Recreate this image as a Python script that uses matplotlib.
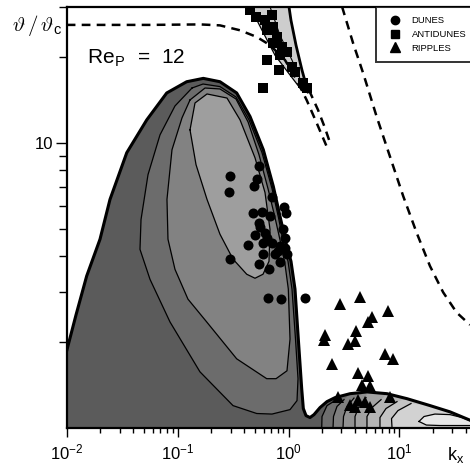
import math
import matplotlib
matplotlib.use("Agg")
import matplotlib.pyplot as plt
from matplotlib.lines import Line2D
from matplotlib.ticker import LogLocator, FixedLocator, FuncFormatter, NullFormatter

plt.rcParams['font.family'] = ['Liberation Sans', 'DejaVu Sans']
plt.rcParams['mathtext.fontset'] = 'cm'

# ---------------- data (k_x, theta/theta_c) ----------------
# outer neutral curve (growth rate = 0)
hill_k = [0.01, 0.01213, 0.01514, 0.01997, 0.02457, 0.0348, 0.0527, 0.0798, 0.1208, 0.1705,
          0.241, 0.341, 0.450, 0.593, 0.729, 0.838, 0.963, 1.053, 1.144, 1.226, 1.315, 1.36,
          1.438, 1.563, 1.698, 1.923, 2.22, 2.63, 3.59, 5.1, 7.73, 11.7, 18.9, 28.6, 43.3]
hill_t = [1.865, 2.49, 3.41, 4.59, 6.33, 9.23, 12.03, 14.95, 16.37, 16.82,
          16.37, 14.95, 12.36, 9.45, 7.04, 5.53, 4.35, 3.84, 3.07, 2.05, 1.374, 1.17,
          1.105, 1.088, 1.114, 1.179, 1.237, 1.278, 1.319, 1.338, 1.319, 1.267, 1.198, 1.139, 1.065]

# contour A (dunes)
a_k = [0.1349, 0.1695, 0.241, 0.336, 0.4404, 0.577, 0.71, 0.812, 0.911, 0.99, 1.075, 1.156, 1.218,
       1.193, 1.032, 0.71, 0.517, 0.316, 0.159, 0.0854, 0.0564, 0.0458, 0.0468, 0.0541, 0.0694, 0.0947]
a_t = [15.56, 16.07, 15.74, 14.47, 12.03, 9.23, 6.91, 5.47, 4.34, 3.84, 3.07, 2.05, 1.489,
       1.247, 1.16, 1.119, 1.124, 1.198, 1.574, 2.354, 3.32, 4.23, 5.38, 7.73, 10.66, 13.46]
# contour B
b_k = [0.1294, 0.1767, 0.241, 0.336, 0.4315, 0.542, 0.653, 0.7554, 0.856, 0.93, 0.996, 1.032, 0.969,
       0.772, 0.636, 0.341, 0.183, 0.124, 0.0947, 0.0819, 0.0802, 0.089, 0.1096]
b_t = [14.13, 15.56, 15.44, 14.24, 11.84, 9.08, 6.91, 5.47, 4.40, 3.75, 3.07, 2.05, 1.587,
       1.489, 1.489, 1.748, 2.354, 2.83, 3.60, 4.59, 6.33, 9.45, 12.23]
# contour C (innermost)
c_k = [0.1294, 0.1435, 0.1842, 0.2789, 0.3656, 0.4988, 0.614, 0.681, 0.667, 0.589, 0.4988, 0.42,
       0.3159, 0.241, 0.1842, 0.1466]
c_t = [11.10, 13.79, 14.83, 14.35, 12.03, 8.86, 6.69, 4.97, 3.84, 3.46, 3.35, 3.46,
       3.91, 4.78, 6.33, 8.38]

# ripple lobe contours (left branches)
rip_k = [[1.993, 2.005, 2.224, 2.626],
         [2.52, 2.545, 2.737, 3.166],
         [3.10, 3.133, 3.37, 3.896],
         [3.978, 3.978, 4.323, 5.0],
         [5.10, 5.10, 5.66, 6.83],
         [6.68, 6.68, 7.57, 9.51],
         [8.58, 8.49, 9.71, 12.72]]
rip_t = [[1.0, 1.097, 1.198, 1.247],
         [1.0, 1.097, 1.190, 1.257],
         [1.0, 1.097, 1.190, 1.273],
         [1.0, 1.097, 1.190, 1.278],
         [1.0, 1.097, 1.179, 1.257],
         [1.0, 1.088, 1.170, 1.237],
         [1.0, 1.079, 1.151, 1.218]]
rip_core_k = [15.02, 16.67, 20.9, 28.6, 36.7, 45.1, 45.1, 23.2, 17.5]
rip_core_t = [1.054, 1.097, 1.119, 1.114, 1.088, 1.054, 1.02, 1.02, 1.024]

# antidune wedge (left edge then right edge)
anti_k = [0.45, 0.577, 0.755, 1.032, 1.351, 1.499, 1.323, 1.169, 1.053, 1.01]
anti_t = [30, 24.8, 20.28, 17.28, 15.07, 15.07, 17.98, 21.98, 26.87, 30]
anti_in_k = [0.681, 0.838, 1.075, 1.38]
anti_in_t = [30, 23.8, 19.49, 15.56]

# dashed curves
d1_k = [0.01, 0.0564, 0.160, 0.241, 0.365, 0.517, 0.681, 0.93, 1.186, 1.46, 1.80, 2.21]
d1_t = [25.9, 25.9, 26.0, 25.8, 24.8, 23.5, 22.0, 19.5, 16.6, 14.1, 11.7, 9.70]
d2_k = [3.04, 3.83, 4.72, 6.23, 8.21, 10.82, 14.29, 18.84, 24.8, 32.8, 43.3]
d2_t = [30, 22.3, 17.5, 12.36, 8.96, 6.50, 4.84, 3.70, 2.99, 2.54, 2.30]
d3_k = [1.53, 1.845, 2.13, 2.42]
d3_t = [15.3, 13.04, 11.28, 9.76]

# observations
dunes_k = [0.297, 0.292, 0.545, 0.52, 0.489, 0.71, 0.92, 0.95, 0.479, 0.577, 0.681, 0.537, 0.892,
           0.499, 0.614, 0.93, 0.434, 0.593, 0.706, 0.838, 0.93, 0.593, 0.756, 0.975, 0.294,
           0.545, 0.671, 0.838, 0.657, 0.85, 1.418, 0.636, 0.809, 0.553]
dunes_t = [7.63, 6.71, 8.26, 7.49, 7.05, 6.43, 5.96, 5.68, 5.66, 5.74, 5.52, 5.22, 4.97,
           4.76, 4.84, 4.65, 4.39, 4.44, 4.44, 4.35, 4.29, 4.06, 4.06, 4.06, 3.91,
           3.75, 3.62, 3.83, 2.85, 2.83, 2.85, 4.65, 4.18, 5.05]
anti_obs_k = [0.45, 0.509, 0.614, 0.705, 0.636, 0.73, 0.783, 0.73, 0.869, 0.963, 0.838, 0.636,
              0.826, 0.593, 1.069, 1.144, 1.46, 1.36]
anti_obs_t = [29.1, 27.5, 26.9, 28.0, 24.8, 25.5, 23.5, 22.3, 21.7, 20.8, 20.3, 19.5,
              18.0, 15.6, 18.5, 17.7, 15.5, 16.2]
ripples_k = [2.91, 4.42, 5.66, 7.89, 5.21, 4.06, 2.13, 2.09, 3.44, 3.98, 7.43, 8.77, 2.47, 4.23,
             5.21, 4.6, 5.43, 2.79, 8.22, 3.59, 4.23, 4.9, 5.43, 3.98]
ripples_t = [2.72, 2.88, 2.45, 2.57, 2.36, 2.19, 2.12, 2.04, 1.97, 2.02, 1.82, 1.75, 1.67, 1.56,
             1.52, 1.42, 1.40, 1.28, 1.28, 1.20, 1.25, 1.23, 1.18, 1.18]

legend_labels = ['DUNES', 'ANTIDUNES', 'RIPPLES']

xlim = (0.01, 43.3)
ylim = (1.0, 30.0)

# ---------------- figure ----------------
fig = plt.figure(figsize=(4.70, 4.65), dpi=100)
ax = fig.add_axes([0.1419, 0.0796, 0.8581, 0.906])
ax.set_xscale('log')
ax.set_yscale('log')
ax.set_xlim(*xlim)
ax.set_ylim(*ylim)

# fills
ax.fill(hill_k + [xlim[1], xlim[0]], hill_t + [ylim[0], ylim[0]], color='#5b5b5b', lw=0, zorder=1)
ax.fill(a_k, a_t, color='#6c6c6c', lw=0, zorder=1.1)
ax.fill(b_k, b_t, color='#828282', lw=0, zorder=1.2)
ax.fill(c_k, c_t, color='#9e9e9e', lw=0, zorder=1.3)
ax.plot(a_k + a_k[:1], a_t + a_t[:1], color='black', lw=0.9, zorder=2)
ax.plot(b_k + b_k[:1], b_t + b_t[:1], color='black', lw=0.9, zorder=2)
ax.plot(c_k + c_k[:1], c_t + c_t[:1], color='black', lw=0.9, zorder=2)

rip_colors = ['#6e6e6e', '#7f7f7f', '#919191', '#a3a3a3', '#b4b4b4', '#c4c4c4', '#d2d2d2']
for i, (lk, lt) in enumerate(zip(rip_k, rip_t)):
    top_k = [k for k in hill_k if k > lk[-1]]
    top_t = [t for k, t in zip(hill_k, hill_t) if k > lk[-1]]
    ax.fill(lk + top_k + [xlim[1]], lt + top_t + [ylim[0]], color=rip_colors[i], lw=0, zorder=1.5 + 0.01 * i)
    ax.plot(lk, lt, color='black', lw=0.9, zorder=2)
ax.fill(rip_core_k, rip_core_t, color='#e6e6e6', lw=0, zorder=1.6)
ax.plot(rip_core_k + rip_core_k[:1], rip_core_t + rip_core_t[:1], color='black', lw=0.9, zorder=2)

ax.plot(hill_k, hill_t, color='black', lw=2.2, zorder=3)

# antidune wedge
ax.fill(anti_k, anti_t, color='#cdcdcd', lw=0, zorder=1)
ax.plot(anti_k[:5], anti_t[:5], color='black', lw=0.9, zorder=2)
ax.plot(anti_k[5:], anti_t[5:], color='black', lw=2.0, zorder=2)
ax.plot(anti_in_k, anti_in_t, color='black', lw=0.8, zorder=2)

# dashed
dash = (0, (3.5, 2.5))
ax.plot(d1_k, d1_t, color='black', lw=1.8, ls=dash, zorder=3)
ax.plot(d2_k, d2_t, color='black', lw=1.8, ls=dash, zorder=3)
ax.plot(d3_k, d3_t, color='black', lw=1.8, ls=dash, zorder=3)

# observations
ax.plot(dunes_k, dunes_t, 'o', color='black', ms=7.2, mew=0, zorder=5)
ax.plot(anti_obs_k, anti_obs_t, 's', color='black', ms=6.5, mew=0, zorder=5)
ax.plot(ripples_k, ripples_t, '^', color='black', ms=8, mew=0, zorder=5)

# axes styling
for s in ['left', 'bottom', 'top']:
    ax.spines[s].set_linewidth(1.6)
ax.spines['right'].set_visible(False)

ax.xaxis.set_major_locator(LogLocator(base=10, numticks=10))
ax.xaxis.set_minor_locator(LogLocator(base=10, subs=[2, 3, 4, 5, 6, 7, 8, 9], numticks=20))
ax.xaxis.set_major_formatter(FuncFormatter(lambda v, p: r'$\mathregular{10^{%d}}$' % round(math.log10(v))))
ax.xaxis.set_minor_formatter(NullFormatter())
ax.yaxis.set_major_locator(FixedLocator([10]))
ax.yaxis.set_minor_locator(FixedLocator([2, 3, 4, 5, 6, 7, 8, 9, 20, 30]))
ax.yaxis.set_major_formatter(FuncFormatter(lambda v, p: '10'))
ax.yaxis.set_minor_formatter(NullFormatter())
ax.tick_params(axis='x', which='major', direction='out', length=6.5, width=1.0, labelsize=12, pad=4)
ax.tick_params(axis='x', which='minor', direction='out', length=3.6, width=1.0)
ax.tick_params(axis='y', which='major', direction='out', length=8, width=1.0, labelsize=12, pad=2)
ax.tick_params(axis='y', which='minor', direction='out', length=5.5, width=1.0)

ax.text(0.050, 0.866, r'Re$_\mathregular{P}$  =  12', transform=ax.transAxes, fontsize=15, va='baseline', ha='left')
fig.text(0.951, 0.008, r'k$_\mathregular{x}$', fontsize=13, va='baseline', ha='left')
fig.text(0.026, 0.946, r'$\vartheta\,/\,\vartheta_\mathregular{c}$', fontsize=15, va='center', ha='left')

handles = [Line2D([], [], marker='o', color='black', ls='', ms=6),
           Line2D([], [], marker='s', color='black', ls='', ms=5.5),
           Line2D([], [], marker='^', color='black', ls='', ms=6.5)]
leg = ax.legend(handles, legend_labels, loc='upper left', bbox_to_anchor=(0.767, 1.0),
                borderaxespad=0, frameon=True, fancybox=False, fontsize=6.8, labelspacing=0.5,
                handlelength=2.05, handletextpad=0.72, borderpad=1.0)
leg.get_frame().set_edgecolor('black')
leg.get_frame().set_linewidth(1.4)
leg.set_zorder(10)

fig.savefig('out.png', dpi=100)
